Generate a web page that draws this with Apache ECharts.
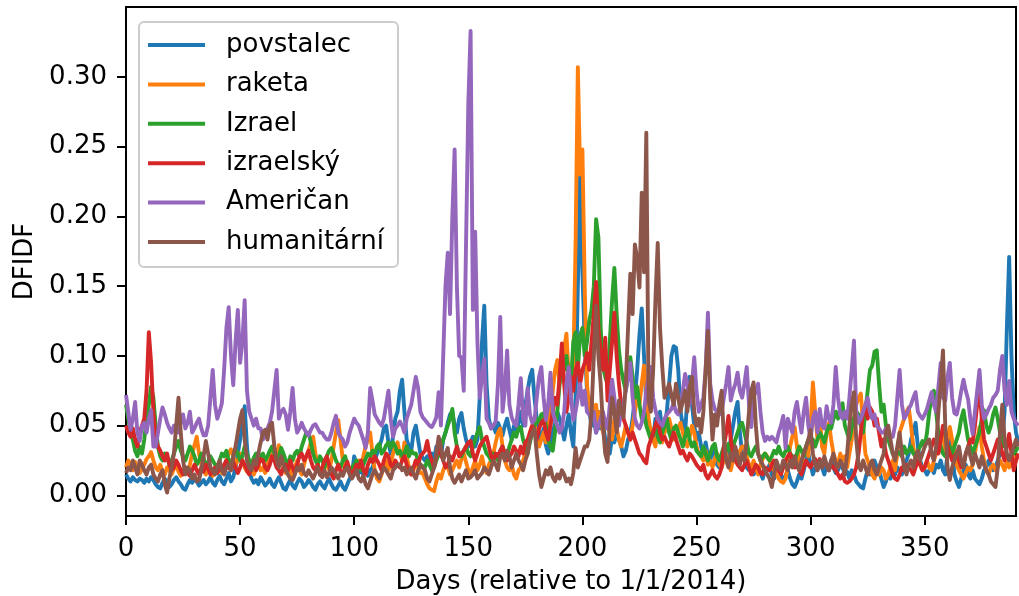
<!DOCTYPE html>
<html>
<head>
<meta charset="utf-8">
<title>DFIDF</title>
<script src="https://cdn.jsdelivr.net/npm/echarts@6/dist/echarts.min.js"></script>
<style>
  html, body { margin: 0; padding: 0; background: #ffffff; }
  #chart { width: 1019px; height: 596px; }
</style>
</head>
<body>
<div id="chart"></div>
<script>
// Daily DFIDF scores for six terms, one value per day since 1/1/2014.
const seriesNames = ['povstalec', 'raketa', 'Izrael', 'izraelský', 'Američan', 'humanitární'];
const seriesColors = ['#1f77b4', '#ff7f0e', '#2ca02c', '#d62728', '#9467bd', '#8c564b'];

const povstalec = [
  0.015,0.012,0.010,0.013,0.011,0.010,0.012,0.011,0.009,0.012,
  0.010,0.013,0.011,0.008,0.006,0.005,0.009,0.012,0.010,0.006,
  0.008,0.011,0.013,0.010,0.008,0.005,0.004,0.008,0.011,0.009,
  0.012,0.010,0.007,0.009,0.011,0.008,0.010,0.013,0.009,0.007,
  0.011,0.014,0.010,0.008,0.012,0.016,0.010,0.013,0.020,0.030,
  0.040,0.050,0.064,0.035,0.018,0.012,0.009,0.011,0.008,0.013,
  0.010,0.007,0.009,0.012,0.008,0.006,0.010,0.013,0.009,0.005,
  0.004,0.008,0.011,0.007,0.005,0.009,0.012,0.010,0.006,0.008,
  0.011,0.009,0.006,0.004,0.008,0.010,0.007,0.005,0.009,0.012,
  0.008,0.005,0.004,0.007,0.010,0.006,0.004,0.008,0.012,0.015,
  0.028,0.022,0.016,0.018,0.015,0.017,0.014,0.018,0.020,0.025,
  0.030,0.035,0.040,0.048,0.050,0.038,0.030,0.042,0.055,0.060,
  0.075,0.083,0.060,0.040,0.035,0.032,0.045,0.050,0.040,0.030,
  0.027,
  0.025,0.028,0.022,0.030,0.026,0.035,0.030,0.028,0.040,0.045,
  0.052,0.058,0.060,0.050,0.045,0.055,0.059,0.048,0.040,0.035,
  0.038,0.042,0.035,0.040,0.070,0.110,0.136,0.080,0.055,0.048,
  0.050,0.045,0.052,0.048,0.043,0.050,0.055,0.047,0.040,0.050,
  0.045,0.052,0.060,0.050,0.065,0.075,0.085,0.090,0.070,0.055,
  0.045,0.040,0.048,0.036,0.030,0.038,0.045,0.052,0.060,0.055,
  0.048,0.040,0.050,0.058,0.045,0.035,0.070,0.150,0.231,0.160,
  0.110,0.075,0.060,0.050,0.055,0.045,0.060,0.048,0.052,0.040,
  0.035,0.030,0.042,0.038,0.045,0.040,0.035,0.028,0.032,0.040,
  0.045,0.055,0.070,0.090,0.115,0.134,0.100,0.065,0.050,0.045,
  0.040,0.055,0.048,0.060,0.045,0.050,0.060,0.080,0.100,0.107,
  0.106,0.090,0.060,0.050,0.045,0.070,0.085,0.065,0.050,0.040,
  0.045,0.035,0.030,0.038,0.028,0.025,0.032,0.030,0.022,0.020,
  0.025,0.030,0.035,0.028,0.040,0.050,0.060,0.067,0.045,0.030,
  0.025,0.020,0.018,0.022,0.015,0.018,0.020,0.016,0.012,0.018,
  0.018,
  0.022,0.015,0.012,0.017,0.020,0.015,0.010,0.014,0.018,0.012,
  0.008,0.006,0.010,0.015,0.012,0.018,0.025,0.030,0.022,0.015,
  0.020,0.018,0.025,0.020,0.015,0.022,0.018,0.025,0.020,0.016,
  0.018,0.022,0.020,0.015,0.017,0.012,0.018,0.015,0.010,0.008,
  0.006,0.005,0.012,0.018,0.015,0.020,0.025,0.020,0.018,0.012,
  0.006,0.010,0.015,0.012,0.018,0.015,0.020,0.018,0.015,0.022,
  0.025,0.030,0.040,0.045,0.052,0.035,0.025,0.020,0.018,0.015,
  0.018,0.020,0.016,0.022,0.020,0.025,0.018,0.015,0.030,0.042,
  0.035,0.015,0.010,0.006,0.012,0.018,0.022,0.015,0.012,0.018,
  0.012,0.010,0.008,0.012,0.018,0.020,0.025,0.022,0.018,0.020,
  0.025,0.030,0.040,0.060,0.120,0.171,0.100,0.060,0.045,0.038
];

const raketa = [
  0.020,0.025,0.022,0.018,0.024,0.020,0.016,0.019,0.022,0.026,
  0.028,0.031,0.025,0.020,0.018,0.022,0.017,0.015,0.020,0.018,
  0.015,0.019,0.022,0.017,0.014,0.018,0.020,0.016,0.022,0.030,
  0.036,0.042,0.030,0.022,0.018,0.015,0.019,0.016,0.014,0.018,
  0.022,0.018,0.016,0.020,0.025,0.030,0.033,0.028,0.022,0.025,
  0.030,0.025,0.020,0.017,0.022,0.018,0.015,0.019,0.022,0.018,
  0.020,0.016,0.022,0.028,0.030,0.025,0.030,0.036,0.028,0.020,
  0.016,0.022,0.018,0.014,0.020,0.025,0.018,0.015,0.022,0.028,
  0.032,0.038,0.042,0.030,0.022,0.018,0.015,0.020,0.024,0.018,
  0.025,0.035,0.045,0.054,0.040,0.025,0.018,0.022,0.016,0.020,
  0.018,0.022,0.025,0.020,0.028,0.035,0.040,0.045,0.030,0.018,
  0.012,0.010,0.015,0.020,0.025,0.018,0.022,0.030,0.035,0.038,
  0.030,0.025,0.038,0.028,0.020,0.015,0.018,0.025,0.020,0.016,
  0.016,
  0.012,0.008,0.005,0.004,0.003,0.010,0.015,0.012,0.018,0.022,
  0.020,0.015,0.018,0.022,0.025,0.020,0.026,0.030,0.024,0.018,
  0.015,0.020,0.025,0.018,0.022,0.028,0.020,0.016,0.022,0.025,
  0.030,0.038,0.045,0.048,0.035,0.025,0.020,0.018,0.022,0.015,
  0.012,0.018,0.020,0.025,0.030,0.035,0.045,0.050,0.052,0.040,
  0.035,0.040,0.045,0.038,0.050,0.060,0.075,0.090,0.097,0.080,
  0.090,0.105,0.116,0.085,0.070,0.090,0.180,0.307,0.230,0.248,
  0.150,0.080,0.060,0.070,0.055,0.065,0.050,0.060,0.045,0.055,
  0.050,0.045,0.040,0.055,0.048,0.040,0.035,0.042,0.050,0.045,
  0.040,0.050,0.060,0.070,0.065,0.080,0.093,0.075,0.055,0.045,
  0.040,0.035,0.048,0.042,0.038,0.045,0.050,0.055,0.048,0.040,
  0.042,0.048,0.052,0.045,0.038,0.035,0.042,0.050,0.045,0.035,
  0.030,0.028,0.025,0.032,0.022,0.025,0.020,0.026,0.030,0.022,
  0.020,0.025,0.030,0.022,0.018,0.025,0.030,0.028,0.032,0.035,
  0.035,0.028,0.022,0.018,0.025,0.020,0.015,0.022,0.026,0.030,
  0.028,
  0.025,0.020,0.018,0.015,0.012,0.010,0.009,0.012,0.020,0.035,
  0.042,0.049,0.035,0.025,0.022,0.030,0.035,0.028,0.050,0.081,
  0.060,0.040,0.059,0.035,0.030,0.045,0.052,0.040,0.030,0.025,
  0.022,0.030,0.025,0.028,0.020,0.030,0.040,0.055,0.065,0.070,
  0.073,0.050,0.030,0.025,0.020,0.015,0.012,0.018,0.015,0.020,
  0.018,0.012,0.015,0.020,0.025,0.018,0.030,0.045,0.050,0.055,
  0.060,0.063,0.050,0.035,0.025,0.028,0.022,0.018,0.020,0.025,
  0.020,0.018,0.025,0.030,0.035,0.042,0.045,0.030,0.040,0.049,
  0.040,0.030,0.022,0.018,0.015,0.012,0.016,0.020,0.018,0.022,
  0.030,0.040,0.049,0.035,0.025,0.018,0.015,0.020,0.022,0.018,
  0.020,0.025,0.022,0.018,0.025,0.020,0.022,0.028,0.025,0.030
];

const izrael = [
  0.065,0.055,0.045,0.040,0.032,0.028,0.035,0.030,0.040,0.055,
  0.065,0.078,0.070,0.050,0.035,0.028,0.025,0.030,0.028,0.022,
  0.025,0.030,0.035,0.039,0.032,0.028,0.025,0.030,0.035,0.032,
  0.028,0.022,0.025,0.030,0.027,0.020,0.024,0.028,0.025,0.022,
  0.020,0.025,0.030,0.028,0.032,0.025,0.022,0.028,0.033,0.030,
  0.025,0.028,0.035,0.030,0.025,0.022,0.027,0.030,0.025,0.028,
  0.030,0.025,0.028,0.032,0.035,0.030,0.025,0.028,0.034,0.030,
  0.025,0.022,0.028,0.025,0.030,0.032,0.028,0.035,0.040,0.045,
  0.045,0.038,0.030,0.025,0.022,0.028,0.025,0.020,0.028,0.032,
  0.034,0.030,0.025,0.022,0.020,0.025,0.028,0.022,0.018,0.020,
  0.022,0.025,0.020,0.018,0.022,0.026,0.030,0.028,0.032,0.030,
  0.035,0.037,0.030,0.032,0.036,0.038,0.034,0.038,0.035,0.030,
  0.032,0.028,0.030,0.035,0.028,0.032,0.030,0.030,0.025,0.022,
  0.021,
  0.020,0.025,0.022,0.018,0.020,0.025,0.030,0.035,0.040,0.045,
  0.050,0.055,0.062,0.045,0.035,0.030,0.028,0.032,0.035,0.030,
  0.028,0.035,0.040,0.045,0.049,0.040,0.035,0.030,0.028,0.025,
  0.030,0.028,0.025,0.032,0.035,0.030,0.028,0.035,0.040,0.045,
  0.042,0.048,0.049,0.040,0.035,0.030,0.038,0.045,0.050,0.055,
  0.052,0.058,0.059,0.050,0.040,0.035,0.032,0.045,0.060,0.080,
  0.095,0.090,0.100,0.085,0.080,0.110,0.117,0.090,0.115,0.120,
  0.100,0.110,0.125,0.133,0.150,0.198,0.185,0.120,0.092,0.085,
  0.080,0.110,0.140,0.163,0.130,0.104,0.090,0.082,0.075,0.085,
  0.099,0.085,0.070,0.078,0.065,0.055,0.060,0.050,0.045,0.040,
  0.045,0.050,0.042,0.038,0.045,0.050,0.055,0.045,0.040,0.048,
  0.050,0.045,0.040,0.035,0.042,0.048,0.040,0.035,0.038,0.032,
  0.030,0.028,0.035,0.030,0.025,0.030,0.035,0.037,0.028,0.025,
  0.030,0.035,0.032,0.037,0.030,0.035,0.040,0.045,0.050,0.052,
  0.045,0.038,0.030,0.028,0.032,0.035,0.030,0.025,0.028,0.030,
  0.027,
  0.025,0.028,0.032,0.030,0.035,0.030,0.028,0.032,0.035,0.030,
  0.028,0.025,0.030,0.035,0.032,0.028,0.035,0.040,0.038,0.040,
  0.035,0.040,0.045,0.042,0.038,0.045,0.050,0.048,0.055,0.060,
  0.055,0.062,0.066,0.050,0.045,0.040,0.048,0.055,0.060,0.058,
  0.050,0.045,0.060,0.075,0.090,0.093,0.103,0.104,0.080,0.060,
  0.065,0.050,0.040,0.035,0.030,0.028,0.032,0.030,0.028,0.035,
  0.030,0.032,0.035,0.030,0.028,0.032,0.035,0.039,0.035,0.045,
  0.060,0.070,0.075,0.060,0.045,0.035,0.030,0.028,0.032,0.035,
  0.030,0.035,0.040,0.045,0.055,0.061,0.050,0.040,0.035,0.030,
  0.035,0.040,0.045,0.055,0.061,0.050,0.045,0.050,0.058,0.063,
  0.055,0.045,0.040,0.035,0.038,0.040,0.035,0.030,0.032,0.035
];

const izraelsky = [
  0.050,0.045,0.042,0.048,0.040,0.035,0.045,0.050,0.055,0.075,
  0.117,0.095,0.060,0.040,0.035,0.032,0.028,0.025,0.030,0.022,
  0.018,0.020,0.025,0.022,0.018,0.015,0.020,0.016,0.014,0.018,
  0.022,0.018,0.015,0.020,0.017,0.022,0.019,0.015,0.018,0.020,
  0.016,0.020,0.018,0.022,0.025,0.020,0.018,0.024,0.020,0.016,
  0.020,0.025,0.022,0.018,0.015,0.020,0.023,0.018,0.022,0.026,
  0.025,0.020,0.018,0.022,0.028,0.025,0.020,0.018,0.015,0.020,
  0.022,0.018,0.025,0.020,0.016,0.022,0.028,0.030,0.025,0.028,
  0.032,0.025,0.020,0.018,0.022,0.015,0.020,0.025,0.028,0.022,
  0.015,0.012,0.018,0.022,0.017,0.015,0.020,0.024,0.018,0.014,
  0.018,0.022,0.020,0.025,0.018,0.015,0.022,0.026,0.024,0.028,
  0.025,0.022,0.018,0.025,0.030,0.028,0.022,0.020,0.025,0.022,
  0.020,0.025,0.028,0.022,0.018,0.015,0.020,0.025,0.022,0.028,
  0.030,
  0.032,0.039,0.030,0.025,0.020,0.028,0.035,0.030,0.025,0.020,
  0.022,0.028,0.025,0.030,0.035,0.028,0.030,0.032,0.035,0.038,
  0.039,0.030,0.025,0.030,0.035,0.038,0.040,0.042,0.035,0.028,
  0.025,0.030,0.028,0.032,0.035,0.030,0.025,0.028,0.030,0.035,
  0.032,0.028,0.035,0.030,0.038,0.040,0.045,0.050,0.045,0.040,
  0.048,0.052,0.054,0.045,0.040,0.050,0.060,0.070,0.065,0.085,
  0.109,0.080,0.060,0.070,0.085,0.075,0.090,0.095,0.080,0.090,
  0.095,0.102,0.090,0.110,0.130,0.153,0.120,0.102,0.090,0.113,
  0.068,0.090,0.110,0.131,0.100,0.080,0.065,0.055,0.050,0.045,
  0.040,0.045,0.040,0.035,0.030,0.028,0.025,0.023,0.035,0.040,
  0.045,0.050,0.055,0.045,0.040,0.042,0.038,0.035,0.040,0.045,
  0.040,0.035,0.030,0.032,0.028,0.025,0.030,0.028,0.025,0.022,
  0.020,0.018,0.022,0.015,0.012,0.015,0.018,0.014,0.012,0.015,
  0.020,0.035,0.045,0.057,0.040,0.030,0.025,0.022,0.020,0.018,
  0.022,0.025,0.020,0.015,0.018,0.022,0.020,0.016,0.015,0.020,
  0.019,
  0.018,0.022,0.025,0.020,0.018,0.015,0.020,0.025,0.028,0.030,
  0.025,0.020,0.022,0.018,0.015,0.020,0.025,0.022,0.020,0.024,
  0.026,0.022,0.026,0.020,0.025,0.022,0.018,0.022,0.020,0.018,
  0.015,0.012,0.015,0.010,0.009,0.010,0.012,0.015,0.020,0.030,
  0.045,0.060,0.063,0.055,0.063,0.060,0.050,0.055,0.045,0.035,
  0.040,0.030,0.025,0.020,0.015,0.012,0.011,0.015,0.020,0.018,
  0.022,0.020,0.018,0.015,0.020,0.025,0.022,0.018,0.020,0.025,
  0.030,0.035,0.040,0.038,0.030,0.040,0.050,0.045,0.035,0.030,
  0.025,0.028,0.030,0.025,0.020,0.022,0.030,0.035,0.040,0.038,
  0.050,0.065,0.078,0.055,0.040,0.035,0.030,0.025,0.030,0.035,
  0.040,0.038,0.030,0.025,0.035,0.044,0.030,0.018,0.025,0.030
];

const american = [
  0.072,0.060,0.047,0.055,0.067,0.045,0.039,0.050,0.052,0.045,
  0.055,0.061,0.035,0.035,0.045,0.055,0.063,0.058,0.052,0.048,
  0.045,0.050,0.050,0.045,0.052,0.058,0.048,0.052,0.060,0.045,
  0.048,0.052,0.055,0.048,0.043,0.043,0.050,0.070,0.090,0.065,
  0.055,0.060,0.066,0.090,0.120,0.135,0.100,0.079,0.110,0.133,
  0.095,0.110,0.140,0.075,0.060,0.055,0.050,0.055,0.048,0.048,
  0.040,0.045,0.048,0.052,0.060,0.075,0.090,0.055,0.060,0.062,
  0.058,0.047,0.060,0.077,0.055,0.045,0.048,0.052,0.048,0.045,
  0.043,0.047,0.050,0.051,0.048,0.045,0.045,0.042,0.040,0.040,
  0.045,0.052,0.057,0.045,0.042,0.040,0.035,0.038,0.045,0.050,
  0.055,0.052,0.050,0.045,0.040,0.034,0.045,0.077,0.068,0.058,
  0.055,0.052,0.050,0.055,0.065,0.075,0.055,0.042,0.048,0.050,
  0.053,0.050,0.045,0.055,0.060,0.065,0.075,0.085,0.077,0.060,
  0.056,
  0.054,0.052,0.050,0.049,0.052,0.056,0.074,0.050,0.100,0.150,
  0.174,0.130,0.200,0.248,0.150,0.100,0.099,0.075,0.180,0.280,
  0.333,0.133,0.189,0.110,0.070,0.085,0.098,0.055,0.052,0.048,
  0.050,0.053,0.080,0.128,0.060,0.075,0.104,0.065,0.056,0.052,
  0.050,0.065,0.084,0.055,0.050,0.077,0.058,0.052,0.054,0.070,
  0.085,0.092,0.070,0.054,0.065,0.088,0.060,0.054,0.050,0.045,
  0.048,0.060,0.080,0.092,0.070,0.054,0.060,0.070,0.080,0.065,
  0.075,0.060,0.058,0.055,0.060,0.045,0.050,0.055,0.060,0.052,
  0.048,0.065,0.083,0.070,0.055,0.050,0.060,0.065,0.075,0.085,
  0.095,0.070,0.055,0.050,0.048,0.052,0.060,0.075,0.085,0.092,
  0.070,0.061,0.055,0.052,0.050,0.055,0.058,0.060,0.062,0.066,
  0.060,0.058,0.065,0.075,0.087,0.080,0.065,0.080,0.099,0.075,
  0.060,0.065,0.070,0.090,0.131,0.080,0.068,0.062,0.060,0.058,
  0.060,0.070,0.080,0.092,0.068,0.075,0.080,0.088,0.075,0.070,
  0.080,0.092,0.065,0.049,0.070,0.075,0.080,0.060,0.045,0.039,
  0.042,
  0.040,0.042,0.040,0.038,0.045,0.050,0.057,0.034,0.055,0.050,
  0.045,0.060,0.067,0.055,0.045,0.060,0.070,0.050,0.040,0.055,
  0.060,0.045,0.062,0.050,0.048,0.064,0.055,0.052,0.065,0.092,
  0.070,0.058,0.055,0.060,0.055,0.070,0.090,0.111,0.060,0.052,
  0.055,0.060,0.065,0.070,0.060,0.055,0.058,0.050,0.048,0.045,
  0.045,0.048,0.044,0.042,0.042,0.050,0.070,0.090,0.065,0.055,
  0.058,0.062,0.065,0.070,0.074,0.060,0.057,0.055,0.058,0.062,
  0.068,0.074,0.065,0.060,0.078,0.095,0.070,0.068,0.085,0.095,
  0.070,0.059,0.058,0.065,0.075,0.083,0.075,0.069,0.055,0.044,
  0.060,0.075,0.090,0.065,0.055,0.058,0.062,0.065,0.070,0.072,
  0.075,0.090,0.100,0.075,0.065,0.082,0.060,0.055,0.052,0.050
];

const humanitarni = [
  0.016,0.020,0.018,0.025,0.020,0.015,0.025,0.022,0.018,0.015,
  0.020,0.022,0.015,0.012,0.010,0.015,0.018,0.008,0.002,0.012,
  0.020,0.030,0.050,0.070,0.045,0.025,0.015,0.020,0.018,0.012,
  0.015,0.010,0.011,0.018,0.028,0.039,0.030,0.020,0.018,0.015,
  0.020,0.025,0.018,0.015,0.020,0.022,0.018,0.028,0.035,0.045,
  0.055,0.061,0.040,0.025,0.020,0.018,0.025,0.022,0.030,0.038,
  0.045,0.047,0.040,0.050,0.052,0.035,0.025,0.020,0.028,0.022,
  0.018,0.015,0.012,0.011,0.015,0.020,0.018,0.022,0.016,0.014,
  0.018,0.015,0.012,0.016,0.020,0.015,0.013,0.018,0.013,0.016,
  0.020,0.018,0.015,0.012,0.016,0.014,0.018,0.020,0.015,0.012,
  0.015,0.018,0.012,0.010,0.014,0.008,0.005,0.010,0.015,0.018,
  0.015,0.012,0.016,0.020,0.018,0.015,0.012,0.018,0.020,0.022,
  0.022,0.018,0.020,0.015,0.018,0.020,0.015,0.012,0.018,0.022,
  0.020,
  0.018,0.012,0.010,0.015,0.020,0.030,0.042,0.035,0.025,0.030,
  0.034,0.020,0.012,0.009,0.012,0.015,0.010,0.014,0.018,0.012,
  0.013,0.015,0.018,0.012,0.014,0.016,0.020,0.018,0.015,0.020,
  0.025,0.022,0.018,0.028,0.030,0.025,0.032,0.028,0.020,0.025,
  0.030,0.025,0.022,0.018,0.025,0.030,0.040,0.045,0.048,0.030,
  0.015,0.006,0.012,0.018,0.015,0.020,0.013,0.010,0.015,0.012,
  0.018,0.015,0.010,0.012,0.008,0.016,0.034,0.020,0.025,0.030,
  0.035,0.035,0.040,0.060,0.100,0.136,0.100,0.080,0.050,0.030,
  0.024,0.050,0.070,0.060,0.045,0.068,0.060,0.056,0.080,0.120,
  0.159,0.130,0.180,0.170,0.149,0.217,0.160,0.260,0.068,0.060,
  0.090,0.140,0.181,0.120,0.092,0.070,0.075,0.080,0.072,0.065,
  0.080,0.070,0.060,0.068,0.075,0.060,0.078,0.085,0.060,0.050,
  0.055,0.045,0.060,0.090,0.118,0.070,0.040,0.058,0.050,0.065,
  0.075,0.040,0.025,0.020,0.030,0.025,0.035,0.028,0.022,0.030,
  0.025,0.040,0.060,0.075,0.081,0.050,0.030,0.025,0.022,0.018,
  0.015,
  0.012,0.006,0.015,0.025,0.020,0.018,0.025,0.022,0.018,0.025,
  0.020,0.028,0.022,0.018,0.025,0.030,0.035,0.040,0.047,0.030,
  0.022,0.018,0.025,0.020,0.028,0.022,0.018,0.025,0.030,0.022,
  0.020,0.025,0.022,0.015,0.030,0.050,0.065,0.074,0.040,0.022,
  0.018,0.025,0.020,0.015,0.022,0.025,0.018,0.015,0.020,0.025,
  0.030,0.045,0.050,0.040,0.030,0.025,0.035,0.045,0.030,0.020,
  0.015,0.022,0.025,0.020,0.028,0.032,0.025,0.030,0.035,0.038,
  0.040,0.030,0.025,0.035,0.060,0.080,0.104,0.050,0.020,0.011,
  0.020,0.025,0.030,0.035,0.025,0.020,0.030,0.035,0.028,0.022,
  0.030,0.025,0.020,0.028,0.022,0.018,0.015,0.010,0.008,0.006,
  0.020,0.045,0.065,0.040,0.030,0.025,0.030,0.035,0.040,0.035
];

const seriesValues = [povstalec, raketa, izrael, izraelsky, american, humanitarni];

const xTicks = [0, 50, 100, 150, 200, 250, 300, 350];
const yTicks = [0.00, 0.05, 0.10, 0.15, 0.20, 0.25, 0.30];

const FONT = 'DejaVu Sans';

const chart = echarts.init(document.getElementById('chart'), null, { renderer: 'canvas' });

const option = {
  animation: false,
  backgroundColor: '#ffffff',
  color: seriesColors,
  textStyle: { fontFamily: FONT, color: '#000000' },
  grid: {
    left: 126, right: 3, top: 7, bottom: 80,
    containLabel: false,
    outerBoundsMode: 'none',
    show: true, borderColor: '#000000', borderWidth: 2, backgroundColor: 'transparent'
  },
  legend: {
    orient: 'vertical',
    left: 139, top: 22,
    padding: [8, 14, 10, 9],
    itemWidth: 57,
    itemHeight: 4,
    itemGap: 9.4,
    icon: 'rect',
    backgroundColor: 'rgba(255,255,255,0.8)',
    borderColor: '#cccccc',
    borderWidth: 2,
    borderRadius: 5,
    data: seriesNames,
    textStyle: {
      fontFamily: FONT, fontSize: 26, color: '#000000',
      lineHeight: 28, padding: [2, 0, 0, 16]
    }
  },
  xAxis: {
    type: 'value',
    min: 0, max: 390,
    name: 'Days (relative to 1/1/2014)',
    nameLocation: 'middle',
    nameGap: 53,
    nameTextStyle: { fontFamily: FONT, fontSize: 26, color: '#000000' },
    splitLine: { show: false },
    axisLine: { show: true, onZero: false, lineStyle: { color: '#000000', width: 2 } },
    axisTick: { show: true, length: 9, lineStyle: { color: '#000000', width: 2 }, customValues: xTicks },
    axisLabel: {
      fontFamily: FONT, fontSize: 26, color: '#000000', margin: 20,
      customValues: xTicks, formatter: v => String(v)
    }
  },
  yAxis: {
    type: 'value',
    min: -0.0148, max: 0.3502,
    name: 'DFIDF',
    nameLocation: 'middle',
    nameGap: 88,
    nameTextStyle: { fontFamily: FONT, fontSize: 26, color: '#000000' },
    splitLine: { show: false },
    axisLine: { show: true, onZero: false, lineStyle: { color: '#000000', width: 2 } },
    axisTick: { show: true, length: 9, lineStyle: { color: '#000000', width: 2 }, customValues: yTicks },
    axisLabel: {
      fontFamily: FONT, fontSize: 26, color: '#000000', margin: 19,
      customValues: yTicks, formatter: v => v.toFixed(2)
    }
  },
  series: seriesNames.map((name, k) => ({
    name: name,
    type: 'line',
    showSymbol: false,
    symbol: 'none',
    clip: true,
    lineStyle: { width: 3.9, color: seriesColors[k], join: 'round' },
    itemStyle: { color: seriesColors[k] },
    emphasis: { disabled: true },
    data: seriesValues[k].map((v, i) => [i, v])
  }))
};

chart.setOption(option);
</script>
</body>
</html>
